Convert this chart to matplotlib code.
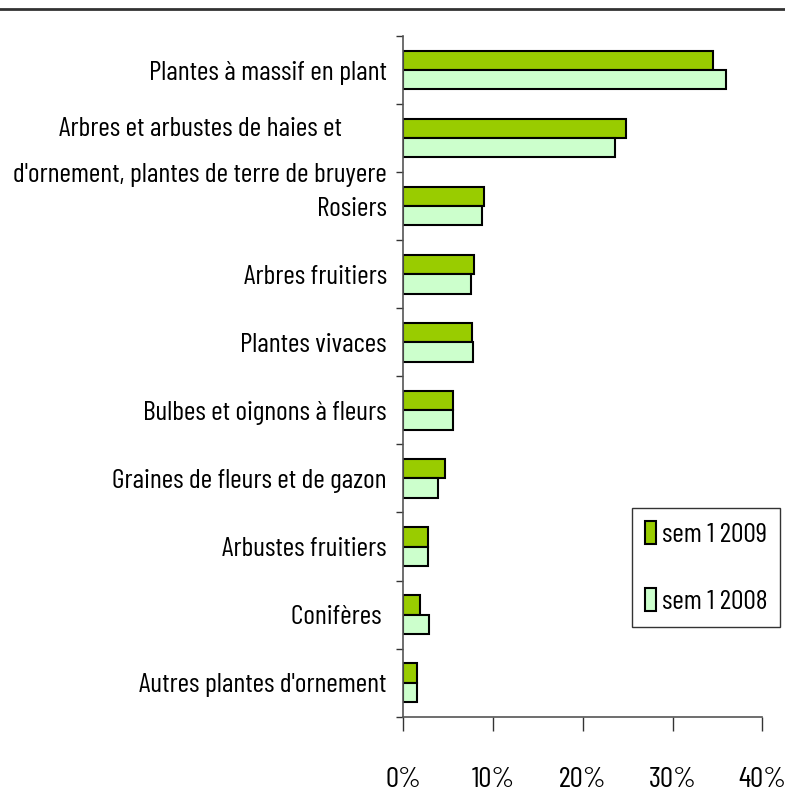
import numpy as np
import matplotlib.pyplot as plt
from matplotlib.lines import Line2D

plt.rcParams['font.family'] = ['Barlow Condensed', 'DejaVu Sans']

categories = [
    "Plantes à massif en plant",
    "Arbres et arbustes de haies et\nd'ornement, plantes de terre de bruyere",
    "Rosiers",
    "Arbres fruitiers",
    "Plantes vivaces",
    "Bulbes et oignons à fleurs",
    "Graines de fleurs et de gazon",
    "Arbustes fruitiers",
    "Conifères ",
    "Autres plantes d'ornement",
]
sem_2009 = [34.5, 24.8, 9.0, 7.9, 7.6, 5.5, 4.6, 2.7, 1.8, 1.5]
sem_2008 = [36.0, 23.6, 8.8, 7.5, 7.8, 5.5, 3.8, 2.7, 2.9, 1.5]
xticks = [0, 10, 20, 30, 40]
xtick_labels = ['0%', '10%', '20%', '30%', '40%']

fig = plt.figure(figsize=(7.85, 7.97), dpi=100)
ax = fig.add_axes([0.514, 0.1008, 0.457, 0.854])

y = np.arange(len(categories))
h = 0.283
ax.barh(y - h / 2, sem_2009, height=h, color='#99CC00', edgecolor='black',
        linewidth=1.5, label='sem 1 2009')
ax.barh(y + h / 2, sem_2008, height=h, color='#CCFFCC', edgecolor='black',
        linewidth=1.5, label='sem 1 2008')

ax.set_xlim(0, 40)
ax.set_ylim(len(categories) - 0.5, -0.5)

fs = 20
ax.set_yticks(y)
ax.set_yticklabels(categories, fontsize=fs, linespacing=2.2, ha='right',
                   multialignment='center')
ax.set_yticks(np.arange(-0.5, len(categories), 1), minor=True)
ax.tick_params(axis='y', which='major', length=0, pad=12)
ax.tick_params(axis='y', which='minor', length=5, width=1, color='#333333')

ax.set_xticks(xticks)
ax.set_xticklabels(xtick_labels, fontsize=21)
ax.tick_params(axis='x', length=10, width=1, color='#333333', pad=26)

for s in ['top', 'right']:
    ax.spines[s].set_visible(False)
for s in ['left', 'bottom']:
    ax.spines[s].set_color('#555555')
    ax.spines[s].set_linewidth(1.2)

leg = ax.legend(loc='upper left', bbox_to_anchor=(632 / 785, 1 - 508 / 797),
                bbox_transform=fig.transFigure, fontsize=fs, frameon=True,
                fancybox=False, edgecolor='black', handlelength=0.4,
                handleheight=0.9, handletextpad=0.22, labelspacing=1.5,
                borderpad=0.45, borderaxespad=0)
leg.get_frame().set_linewidth(1.0)

# line across the top of the picture
fig.add_artist(Line2D([0, 1], [1 - 9 / 797, 1 - 9 / 797], color='#333333',
                      linewidth=2, transform=fig.transFigure))

plt.savefig('out.png', dpi=100)
